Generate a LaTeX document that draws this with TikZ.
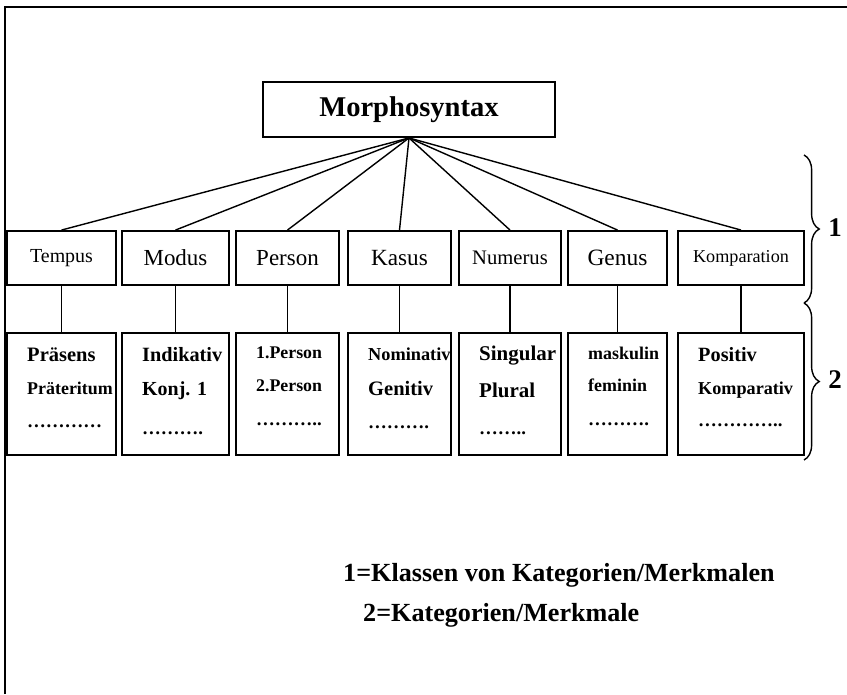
\documentclass[tikz,border=0pt]{standalone}
\usepackage{fontspec}
\setmainfont{Liberation Serif}
\usetikzlibrary{decorations.pathreplacing,positioning}
\newcommand{\fsz}[1]{\fontsize{#1}{#1}\selectfont}

\begin{document}
\begin{tikzpicture}[x=0.03cm,y=-0.03cm,
  box/.style={draw,line width=1.6pt,inner sep=0pt,minimum height=1.62cm},
  valbox/.style={draw,line width=1.6pt,inner sep=0pt,minimum height=3.66cm},
  val/.style={anchor=west,inner sep=0pt,font=\bfseries},
  dots/.style={anchor=west,inner sep=0pt,font=\fsz{16}\bfseries},
  brc/.style={decorate,decoration={brace,amplitude=13pt},line width=1.2pt}]
\useasboundingbox (0,0) rectangle (847,694);
% frame
\draw[line width=2pt] (5,694) -- (5,7) -- (847,7);
\node[draw,line width=1.6pt,minimum width=8.76cm,minimum height=1.65cm] (M) at (409,109.5) {\fsz{24.4}\bfseries Morphosyntax};
% classes
\node[box,minimum width=3.27cm] (T) at (61.5,258) {\fsz{17}Tempus};
\node[box,minimum width=3.21cm] (Mo) at (175.5,258) {\fsz{19.6}Modus};
\node[box,minimum width=3.09cm] (P) at (287.5,258) {\fsz{19.6}Person};
\node[box,minimum width=3.09cm] (K) at (399.5,258) {\fsz{19.8}Kasus};
\node[box,minimum width=3.06cm] (N) at (510,258) {\fsz{17.6}Numerus};
\node[box,minimum width=2.97cm] (G) at (617.5,258) {\fsz{20}Genus};
\node[box,minimum width=3.78cm] (Ko) at (741,258) {\fsz{15.5}Komparation};
% categories
\node[valbox,minimum width=3.27cm] (T2) at (61.5,394) {};
\node[valbox,minimum width=3.21cm] (Mo2) at (175.5,394) {};
\node[valbox,minimum width=3.09cm] (P2) at (287.5,394) {};
\node[valbox,minimum width=3.09cm] (K2) at (399.5,394) {};
\node[valbox,minimum width=3.06cm] (N2) at (510,394) {};
\node[valbox,minimum width=2.97cm] (G2) at (617.5,394) {};
\node[valbox,minimum width=3.78cm] (Ko2) at (741,394) {};
\node[val] (t1) at (27,355) {\fsz{17.5}Präsens};
\node[val] (t2) at (27,388) {\fsz{15.3}Präteritum};
\node[dots] (t3) at (27,426) {…………};
\node[val] (m1) at (142,355) {\fsz{17.3}Indikativ};
\node[val] (m2) at (142,391) {\fsz{17}Konj. 1};
\node[dots] (m3) at (142,433) {……….};
\node[val] (p1) at (256,353) {\fsz{15.2}1.Person};
\node[val] (p2) at (256,386) {\fsz{15.2}2.Person};
\node[dots] (p3) at (256,424) {………..};
\node[val] (k1) at (368,354) {\fsz{15.6}Nominativ};
\node[val] (k2) at (368,388) {\fsz{17.5}Genitiv};
\node[dots] (k3) at (368,427) {……….};
\node[val] (n1) at (479,356) {\fsz{17.9}Singular};
\node[val] (n2) at (479,390) {\fsz{17.9}Plural};
\node[dots] (n3) at (479,433) {……..};
\node[val] (g1) at (588,353) {\fsz{15.3}maskulin};
\node[val] (g2) at (588,385) {\fsz{15.3}feminin};
\node[dots] (g3) at (588,424) {……….};
\node[val] (ko1) at (698,355) {\fsz{17.3}Positiv};
\node[val] (ko2) at (698,390) {\fsz{15.5}Komparativ};
\node[dots] (ko3) at (698,425) {…………..};
\path[line width=1.2pt]
(M.south) edge (T.north)
(M.south) edge (Mo.north)
(M.south) edge (P.north)
(M.south) edge (K.north)
(M.south) edge (N.north)
(M.south) edge (G.north)
(M.south) edge (Ko.north)
(T) edge (T2)
(Mo) edge (Mo2)
(P) edge (P2)
(K) edge (K2)
(N) edge (N2)
(G) edge (G2)
(Ko) edge (Ko2);
% braces
\coordinate (b1) at (804,155);
\coordinate (b2) at (804,303);
\coordinate (b3) at (804,460);
\draw[brc] (b1) -- (b2);
\draw[brc] (b2) -- (b3);
\node (one) at (835,228) {\fsz{23}\bfseries 1};
\node (two) at (835,380) {\fsz{23}\bfseries 2};
% legend
\node[anchor=west,inner sep=0pt] (lg1) at (343,575) {\fsz{22.3}\bfseries 1=Klassen von Kategorien/Merkmalen};
\node[anchor=west,inner sep=0pt] (lg2) at (363,615) {\fsz{22.3}\bfseries 2=Kategorien/Merkmale};
\end{tikzpicture}
\end{document}
